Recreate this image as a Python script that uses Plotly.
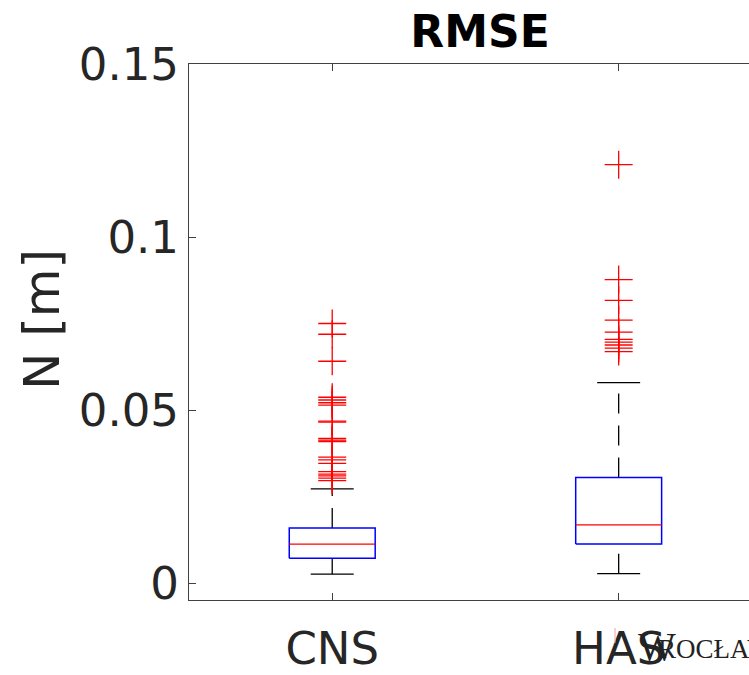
import plotly.graph_objects as go

# ---- data ----
categories = ["CNS", "HAS"]
q1 = [0.0072, 0.01125]
median = [0.01125, 0.0168]
q3 = [0.0159, 0.0305]
lower_whisker = [0.0026, 0.0027]
upper_whisker = [0.0272, 0.0579]
outliers_cns = [0.0750, 0.0719, 0.0641, 0.0537, 0.0529, 0.0521, 0.0514, 0.0468,
                0.0465, 0.0418, 0.0413, 0.0409, 0.0364, 0.0356, 0.0346, 0.0322,
                0.0315, 0.0310, 0.0303, 0.0296]
outliers_has = [0.1209, 0.0877, 0.0817, 0.0760, 0.0725, 0.0704, 0.0696, 0.0688,
                0.0679, 0.0669]
outliers = [outliers_cns, outliers_has]
y_tick_values = [0, 0.05, 0.1, 0.15]
y_tick_labels = ["0", "0.05", "0.1", "0.15"]

# ---- style ----
BOX_HALF = 0.15
CAP_HALF = 0.075
TXT = "#262626"
FONT = "DejaVu Sans"
W, H = 749, 675
ML, MR, MT, MB = 189, 0, 64, 75
PW, PH = W - ML - MR, H - MT - MB


def px_x(px):
    return (px - ML) / PW


def px_y(py):
    return (H - MB - py) / PH


fig = go.Figure()
for i, cat in enumerate(categories):
    p = i + 1
    # whiskers (dashed)
    fig.add_trace(go.Scatter(x=[p, p], y=[q3[i], upper_whisker[i]], mode="lines",
                             line=dict(color="black", width=1.3, dash="20px,12px"),
                             showlegend=False, hoverinfo="skip"))
    fig.add_trace(go.Scatter(x=[p, p], y=[lower_whisker[i], q1[i]], mode="lines",
                             line=dict(color="black", width=1.3, dash="20px,12px"),
                             showlegend=False, hoverinfo="skip"))
    # caps
    for v in (upper_whisker[i], lower_whisker[i]):
        fig.add_trace(go.Scatter(x=[p - CAP_HALF, p + CAP_HALF], y=[v, v], mode="lines",
                                 line=dict(color="black", width=1.3),
                                 showlegend=False, hoverinfo="skip"))
    # box
    fig.add_trace(go.Scatter(
        x=[p - BOX_HALF, p + BOX_HALF, p + BOX_HALF, p - BOX_HALF, p - BOX_HALF],
        y=[q1[i], q1[i], q3[i], q3[i], q1[i]], mode="lines",
        line=dict(color="#0000ff", width=1.5), showlegend=False, hoverinfo="skip"))
    # median
    fig.add_trace(go.Scatter(x=[p - BOX_HALF, p + BOX_HALF], y=[median[i], median[i]],
                             mode="lines", line=dict(color="#ff0000", width=1.2),
                             showlegend=False, hoverinfo="skip"))
    # outliers
    fig.add_trace(go.Scatter(x=[p] * len(outliers[i]), y=outliers[i], mode="markers",
                             marker=dict(symbol="cross-thin", size=20,
                                         line=dict(color="#ff0000", width=1.3)),
                             showlegend=False, hoverinfo="skip"))

axis_common = dict(showgrid=False, zeroline=False, showline=True, linecolor="#404040",
                   linewidth=1, ticks="inside", ticklen=7, tickcolor="#404040",
                   tickfont=dict(family=FONT, size=45, color=TXT))

fig.update_xaxes(range=[0.5, 2.455], tickvals=[i + 1 for i in range(len(categories))],
                 ticktext=categories, mirror="ticks", ticklabelstandoff=9, **axis_common)
fig.update_yaxes(range=[-0.0049, 0.15], tickvals=y_tick_values, ticktext=y_tick_labels,
                 mirror=False, **axis_common)

fig.update_layout(
    width=W, height=H, margin=dict(l=ML, r=MR, t=MT, b=MB),
    plot_bgcolor="white", paper_bgcolor="white",
    title=dict(text="<b>RMSE</b>", font=dict(family=FONT, size=44, color="black"),
               xref="paper", x=px_x(480), xanchor="center",
               yref="container", y=1 - 32 / H, yanchor="middle"),
    annotations=[
        dict(text="N [m]", textangle=-90, xref="paper", yref="paper",
             x=px_x(42), y=px_y(320), xanchor="center", yanchor="middle",
             showarrow=False, font=dict(family=FONT, size=50, color=TXT)),
        dict(text="W", xref="paper", yref="paper", x=px_x(636), y=px_y(646),
             xanchor="left", yanchor="middle", showarrow=False,
             font=dict(family="Liberation Serif", size=40, color="#222222")),
        dict(text="ROCŁAW", xref="paper", yref="paper", x=px_x(656), y=px_y(649),
             xanchor="left", yanchor="middle", showarrow=False,
             font=dict(family="Liberation Serif", size=27, color="#222222")),
    ],
    shapes=[dict(type="line", xref="paper", yref="paper", x0=px_x(615), x1=px_x(615),
                 y0=px_y(628), y1=px_y(643), line=dict(color="#e8a0b0", width=1))],
)

fig.write_html("out.html")
